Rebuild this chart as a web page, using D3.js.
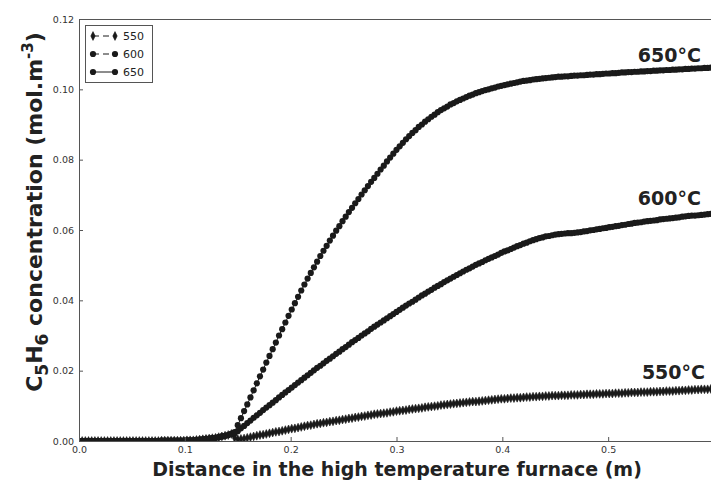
<!DOCTYPE html>
<html><head><meta charset="utf-8">
<script src="https://cdn.jsdelivr.net/npm/d3@7"></script>
<style>body{margin:0;background:#fff;overflow:hidden} svg{display:block}</style>
</head><body>
<svg id="chart" width="711" height="480"></svg>
<script>
// ---------- data ----------
const temperatures = ["550", "600", "650"];
const annotationLabels = ["550°C", "600°C", "650°C"];
const xTicks = [0.0, 0.1, 0.2, 0.3, 0.4, 0.5];
const yTicks = [0.00, 0.02, 0.04, 0.06, 0.08, 0.10, 0.12];
// sampling positions along the furnace (m), regular grid
const distance = d3.range(200).map(i => +(i * 0.003).toFixed(3));

const c550 = [
0,0,0,0,0,0,0,0,0,0, 0,0,0,0,0,0,0,0,0,0, 0,0,0,0,0,0,
0.0001,0.0001,0.0001,0.0001,0.0001,0.0001,0.0001,0.0001,0.0002,0.0002,0.0002,
0.0003,0.0004,0.0005,0.0006,0.0007,0.0008,0.0009,0.0011,0.0013,0.0015,0.0017,0.0020,
0.0009,0.0005,0.0006,0.0007,0.0009,0.0011,0.0013,0.0015,0.0017,0.0018,
0.0020,0.0022,0.0024,0.0026,0.0027,0.0029,0.0031,0.0033,0.0035,0.0036,
0.0038,0.0040,0.0042,0.0044,0.0045,0.0047,0.0049,0.0050,0.0052,0.0053,
0.0055,0.0056,0.0058,0.0059,0.0061,0.0062,0.0064,0.0065,0.0067,0.0068,
0.0070,0.0071,0.0073,0.0074,0.0076,0.0077,0.0078,0.0079,0.0080,0.0082,
0.0083,0.0085,0.0086,0.0087,0.0088,0.0090,0.0091,0.0092,0.0093,0.0094,
0.0096,0.0097,0.0098,0.0099,0.0100,0.0102,0.0103,0.0104,0.0105,0.0106,
0.0107,0.0108,0.0109,0.0110,0.0111,0.0112,0.0112,0.0113,0.0114,0.0115,
0.0116,0.0117,0.0118,0.0119,0.0120,0.0120,0.0121,0.0122,0.0122,0.0123,
0.0123,0.0124,0.0125,0.0125,0.0126,0.0126,0.0127,0.0127,0.0128,0.0128,
0.0129,0.0129,0.0129,0.0130,0.0130,0.0130,0.0131,0.0131,0.0131,0.0132,
0.0132,0.0133,0.0133,0.0133,0.0134,0.0134,0.0134,0.0135,0.0135,0.0135,
0.0136,0.0136,0.0136,0.0137,0.0137,0.0138,0.0138,0.0138,0.0139,0.0139,
0.0139,0.0140,0.0140,0.0140,0.0141,0.0141,0.0142,0.0142,0.0142,0.0143,
0.0143,0.0144,0.0144,0.0145,0.0145,0.0146,0.0146,0.0147,0.0147,0.0147,
0.0148
];

const c600 = [
0,0,0,0,0,0,0,0,0,0, 0,0,0,0,0,0,0,0,0,0, 0,0,0,0,0,0,
0.0001,0.0001,0.0001,0.0001,0.0001,0.0001,0.0001,0.0001,0.0002,0.0002,0.0002,
0.0003,0.0004,0.0005,0.0006,0.0007,0.0008,0.0009,0.0011,0.0013,0.0015,0.0017,0.0020,
0.0021,0.0028,0.0036,0.0043,0.0051,0.0058,0.0066,0.0073,0.0080,0.0088,
0.0095,0.0102,0.0109,0.0116,0.0124,0.0131,0.0138,0.0145,0.0152,0.0159,
0.0166,0.0173,0.0180,0.0187,0.0194,0.0201,0.0208,0.0214,0.0221,0.0228,
0.0234,0.0241,0.0248,0.0254,0.0261,0.0267,0.0274,0.0281,0.0287,0.0293,
0.0300,0.0306,0.0312,0.0319,0.0325,0.0331,0.0337,0.0343,0.0349,0.0355,
0.0361,0.0367,0.0373,0.0379,0.0385,0.0391,0.0396,0.0402,0.0408,0.0414,
0.0419,0.0425,0.0430,0.0436,0.0441,0.0446,0.0452,0.0457,0.0462,0.0467,
0.0472,0.0477,0.0482,0.0487,0.0491,0.0496,0.0501,0.0505,0.0509,0.0514,
0.0518,0.0522,0.0526,0.0530,0.0535,0.0539,0.0542,0.0546,0.0550,0.0554,
0.0557,0.0561,0.0564,0.0568,0.0571,0.0574,0.0577,0.0579,0.0582,0.0583,
0.0585,0.0587,0.0588,0.0589,0.0590,0.0591,0.0591,0.0592,0.0593,0.0594,
0.0596,0.0597,0.0599,0.0600,0.0602,0.0603,0.0605,0.0606,0.0608,0.0609,
0.0611,0.0612,0.0614,0.0615,0.0617,0.0618,0.0620,0.0621,0.0622,0.0624,
0.0625,0.0626,0.0627,0.0628,0.0630,0.0631,0.0632,0.0633,0.0634,0.0635,
0.0636,0.0638,0.0639,0.0640,0.0641,0.0641,0.0642,0.0643,0.0644,0.0645,
0.0646
];

const c650 = [
0,0,0,0,0,0,0,0,0,0, 0,0,0,0,0,0,0,0,0,0, 0,0,0,0,0,0,
0.0001,0.0001,0.0001,0.0001,0.0001,0.0001,0.0001,0.0001,0.0002,0.0002,0.0002,
0.0003,0.0004,0.0005,0.0006,0.0007,0.0008,0.0009,0.0011,0.0013,0.0015,0.0017,0.0020,
0.0025,0.0045,0.0065,0.0085,0.0104,0.0124,0.0144,0.0164,0.0184,0.0203,
0.0223,0.0242,0.0261,0.0280,0.0300,0.0318,0.0337,0.0356,0.0374,0.0392,
0.0410,0.0428,0.0445,0.0462,0.0478,0.0494,0.0510,0.0526,0.0541,0.0555,
0.0570,0.0584,0.0598,0.0611,0.0625,0.0638,0.0651,0.0663,0.0676,0.0688,
0.0701,0.0713,0.0725,0.0737,0.0748,0.0760,0.0772,0.0783,0.0795,0.0806,
0.0817,0.0828,0.0838,0.0848,0.0858,0.0867,0.0876,0.0884,0.0893,0.0900,
0.0908,0.0915,0.0922,0.0928,0.0935,0.0941,0.0946,0.0951,0.0957,0.0961,
0.0966,0.0970,0.0974,0.0978,0.0982,0.0985,0.0989,0.0992,0.0995,0.0998,
0.1000,0.1003,0.1005,0.1008,0.1010,0.1012,0.1014,0.1016,0.1018,0.1020,
0.1022,0.1024,0.1025,0.1026,0.1028,0.1029,0.1030,0.1031,0.1032,0.1033,
0.1034,0.1035,0.1036,0.1036,0.1037,0.1037,0.1038,0.1039,0.1039,0.1040,
0.1040,0.1041,0.1042,0.1042,0.1043,0.1043,0.1044,0.1045,0.1045,0.1046,
0.1046,0.1047,0.1048,0.1048,0.1049,0.1049,0.1050,0.1050,0.1051,0.1051,
0.1052,0.1052,0.1053,0.1053,0.1054,0.1054,0.1055,0.1055,0.1056,0.1056,
0.1057,0.1057,0.1058,0.1058,0.1059,0.1059,0.1060,0.1060,0.1061,0.1061,
0.1062
];

// annotation anchor points (data space, right-aligned text)
const annotationX = [0.5915, 0.5876, 0.5876];
const annotationY = [0.0177, 0.0671, 0.1077];

// ---------- chart ----------
const FONT = "DejaVu Sans, Liberation Sans, sans-serif";
const INK = "#1a1a1a";
const svg = d3.select("#chart");
const plot = {left: 79, top: 19, right: 714, bottom: 441};

const x = d3.scaleLinear().domain([0, 0.6]).range([plot.left, plot.right]);
const y = d3.scaleLinear().domain([0, 0.12]).range([plot.bottom, plot.top]);

svg.append("rect").attr("width", 711).attr("height", 480).attr("fill", "#fff");

svg.append("defs").append("clipPath").attr("id", "plotClip")
  .append("rect").attr("x", plot.left).attr("y", plot.top)
  .attr("width", plot.right - plot.left).attr("height", plot.bottom - plot.top);

// series
const seriesValues = [c550, c600, c650];
const seriesStyle = [
  {marker: "diamond", dash: "5,3"},
  {marker: "circle", dash: "5,3"},
  {marker: "circle", dash: null}
];

const g = svg.append("g").attr("clip-path", "url(#plotClip)");
const line = d3.line().x(d => x(d[0])).y(d => y(d[1]));
const diamondPath = "M0,-4.4L2.2,0L0,4.4L-2.2,0Z";
const R = 3.1;

temperatures.forEach((t, k) => {
  const pts = distance.map((d, i) => [d, seriesValues[k][i]]);
  const st = seriesStyle[k];
  const sg = g.append("g").attr("class", "series-" + t);
  sg.append("path").datum(pts).attr("d", line)
    .attr("fill", "none").attr("stroke", INK).attr("stroke-width", 1)
    .attr("stroke-dasharray", st.dash);
  if (st.marker === "circle") {
    sg.selectAll("circle").data(pts).join("circle")
      .attr("cx", d => x(d[0])).attr("cy", d => y(d[1])).attr("r", R)
      .attr("fill", INK);
  } else {
    sg.selectAll("path.m").data(pts).join("path").attr("class", "m")
      .attr("d", diamondPath)
      .attr("transform", d => `translate(${x(d[0])},${y(d[1])})`)
      .attr("fill", INK).attr("stroke", INK).attr("stroke-width", 0.6);
  }
});

// axes
const xAxis = d3.axisBottom(x).tickValues(xTicks).tickFormat(d3.format(".1f"))
  .tickSizeInner(-4).tickSizeOuter(0).tickPadding(5);
const yAxis = d3.axisLeft(y).tickValues(yTicks).tickFormat(d3.format(".2f"))
  .tickSizeInner(-4).tickSizeOuter(0).tickPadding(5);

const gx = svg.append("g").attr("transform", `translate(0,${plot.bottom})`).call(xAxis);
const gy = svg.append("g").attr("transform", `translate(${plot.left},0)`).call(yAxis);
[gx, gy].forEach(a => {
  a.select(".domain").remove();
  a.selectAll(".tick line").attr("stroke", "#555");
  a.selectAll(".tick text").attr("font-family", FONT).attr("font-size", "9.5px").attr("fill", "#333");
});

// frame (left, top, bottom)
const frame = svg.append("g").attr("stroke", "#555").attr("stroke-width", 1).attr("fill", "none");
frame.append("path").attr("d", `M${plot.left + 0.5},${plot.top}V${plot.bottom}`);
frame.append("path").attr("d", `M${plot.left},${plot.top + 0.5}H${plot.right}`);
frame.append("path").attr("d", `M${plot.left},${plot.bottom + 0.5}H${plot.right}`);

// axis titles
svg.append("text").attr("x", 397).attr("y", 476).attr("text-anchor", "middle")
  .attr("font-family", FONT).attr("font-weight", "bold").attr("font-size", "19px").attr("fill", "#222")
  .text("Distance in the high temperature furnace (m)");

const yt = svg.append("text").attr("transform", "translate(42,212) rotate(-90)")
  .attr("text-anchor", "middle").attr("font-family", FONT).attr("font-weight", "bold")
  .attr("font-size", "22px").attr("fill", "#222");
yt.append("tspan").text("C");
yt.append("tspan").attr("font-size", "17px").attr("dy", 6).text("5");
yt.append("tspan").attr("dy", -6).text("H");
yt.append("tspan").attr("font-size", "17px").attr("dy", 6).text("6");
yt.append("tspan").attr("dy", -6).text(" concentration (mol.m");
yt.append("tspan").attr("font-size", "15px").attr("dy", -9).text("-3");
yt.append("tspan").attr("dy", 9).text(")");

// annotations
annotationLabels.forEach((lab, k) => {
  svg.append("text").attr("x", x(annotationX[k])).attr("y", y(annotationY[k]))
    .attr("text-anchor", "end").attr("font-family", FONT).attr("font-weight", "bold")
    .attr("font-size", "19px").attr("fill", "#222").text(lab);
});

// legend
const lg = svg.append("g");
lg.append("rect").attr("x", 85.5).attr("y", 25.5).attr("width", 67).attr("height", 57)
  .attr("fill", "#fff").attr("stroke", "#555").attr("stroke-width", 1);
temperatures.forEach((t, k) => {
  const cy = 36 + k * 18;
  const st = seriesStyle[k];
  lg.append("line").attr("x1", 93).attr("x2", 115).attr("y1", cy).attr("y2", cy)
    .attr("stroke", INK).attr("stroke-width", 1).attr("stroke-dasharray", st.dash ? "6,4" : null);
  [93, 115].forEach(mx => {
    if (st.marker === "circle") {
      lg.append("circle").attr("cx", mx).attr("cy", cy).attr("r", R).attr("fill", INK);
    } else {
      lg.append("path").attr("d", diamondPath).attr("transform", `translate(${mx},${cy})`)
        .attr("fill", INK).attr("stroke", INK).attr("stroke-width", 0.6);
    }
  });
  lg.append("text").attr("x", 123).attr("y", cy).attr("dy", "0.36em")
    .attr("font-family", FONT).attr("font-size", "11px").attr("fill", "#222").text(t);
});
</script>
</body></html>
